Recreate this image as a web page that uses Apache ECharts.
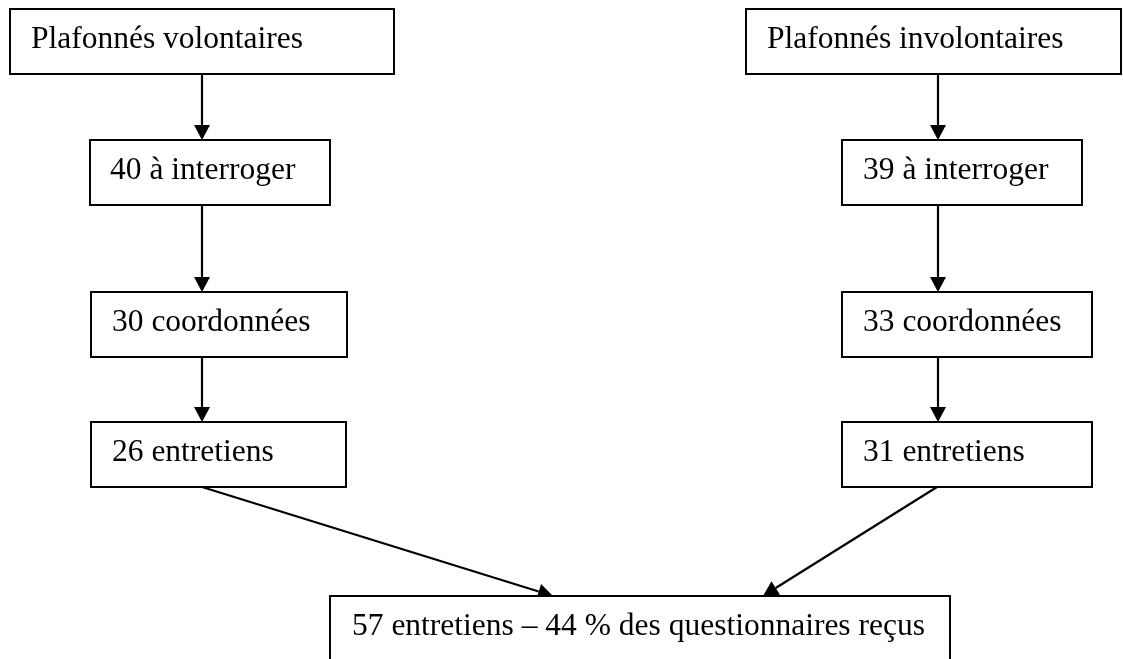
<!DOCTYPE html>
<html>
<head>
<meta charset="utf-8">
<script src="https://cdn.jsdelivr.net/npm/echarts@6/dist/echarts.min.js"></script>
<style>
  html, body { margin: 0; padding: 0; background: #fff; }
  #chart { width: 1123px; height: 659px; }
</style>
</head>
<body>
<div id="chart"></div>
<script>
  // box texts, top row first, then each step down
  const boxLabels = [
    'Plafonnés volontaires',
    'Plafonnés involontaires',
    '40 à interroger',
    '39 à interroger',
    '30 coordonnées',
    '33 coordonnées',
    '26 entretiens',
    '31 entretiens',
    '57 entretiens – 44 % des questionnaires reçus',
  ]

  // arrows: which box goes to which
  const arrowFrom = [0, 1, 2, 3, 4, 5, 6, 7]
  const arrowTo = [2, 3, 4, 5, 6, 7, 8, 8]

  //------------------- layout (chart units = px) -------------------//
  const boxLeft = [10, 746, 90, 842, 91, 842, 91, 842, 330]
  const boxRight = [394, 1121, 330, 1082, 347, 1092, 346, 1092, 950]
  const boxTop = [9, 9, 140, 140, 292, 292, 422, 422, 596]
  const boxBottom = [74, 74, 205, 205, 357, 357, 487, 487, 668]
  const textLeft = [31, 767, 110, 863, 112, 863, 112, 863, 352]
  const arrowStartX = [202, 938, 202, 938, 202, 938, 202, 937]
  const arrowEndX = [202, 938, 202, 938, 202, 938, 553, 763]

  const font = '"Liberation Serif", "Times New Roman", serif'
  const fontSize = 31.5
  const headLen = 15
  const headHalf = 8

  const boxData = boxLabels.map((label, i) => ({
    name: label,
    value: [boxLeft[i], boxTop[i], boxRight[i], boxBottom[i], textLeft[i]],
  }))

  const arrowData = arrowFrom.map((from, i) => {
    const to = arrowTo[i]
    return [arrowStartX[i], boxBottom[from], arrowEndX[i], boxTop[to]]
  })

  const renderBox = (params, api) => {
    const p0 = api.coord([api.value(0), api.value(1)])
    const p1 = api.coord([api.value(2), api.value(3)])
    const t = api.coord([api.value(4), api.value(1) + 30.5])
    return {
      type: 'group',
      children: [
        {
          type: 'rect',
          shape: {x: p0[0], y: p0[1], width: p1[0] - p0[0], height: p1[1] - p0[1]},
          style: {fill: '#fff', stroke: '#000', lineWidth: 2},
        },
        {
          type: 'text',
          style: {
            text: boxLabels[params.dataIndex],
            x: t[0],
            y: t[1],
            fill: '#000',
            fontSize,
            fontFamily: font,
            align: 'left',
            verticalAlign: 'middle',
          },
        },
      ],
    }
  }

  const renderArrow = (params, api) => {
    const a = api.coord([api.value(0), api.value(1)])
    const b = api.coord([api.value(2), api.value(3)])
    const len = Math.hypot(b[0] - a[0], b[1] - a[1])
    const ux = (b[0] - a[0]) / len
    const uy = (b[1] - a[1]) / len
    const bx = b[0] - ux * headLen
    const by = b[1] - uy * headLen
    return {
      type: 'group',
      children: [
        {
          type: 'line',
          shape: {x1: a[0], y1: a[1], x2: bx, y2: by},
          style: {stroke: '#000', lineWidth: 2.2},
        },
        {
          type: 'polygon',
          shape: {points: [b, [bx - uy * headHalf, by + ux * headHalf], [bx + uy * headHalf, by - ux * headHalf]]},
          style: {fill: '#000'},
        },
      ],
    }
  }

  const chart = echarts.init(document.getElementById('chart'))
  chart.setOption({
    animation: false,
    grid: {left: 0, right: 0, top: 0, bottom: 0},
    xAxis: {type: 'value', min: 0, max: 1123, show: false},
    yAxis: {type: 'value', min: 0, max: 659, inverse: true, show: false},
    series: [
      {type: 'custom', name: 'arrows', renderItem: renderArrow, data: arrowData, clip: false, silent: true},
      {type: 'custom', name: 'boxes', renderItem: renderBox, data: boxData, clip: false, silent: true},
    ],
  })
</script>
</body>
</html>
